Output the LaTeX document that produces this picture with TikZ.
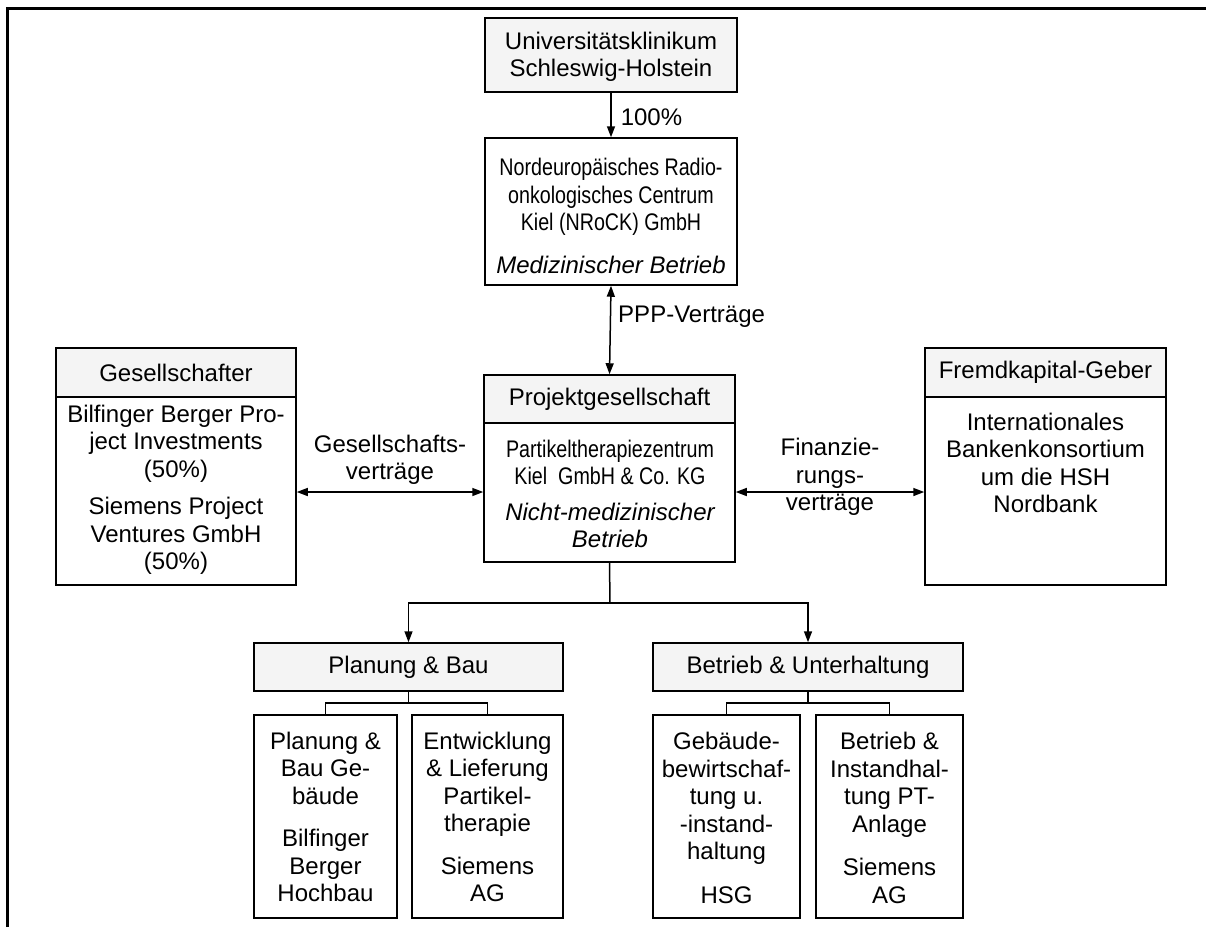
\documentclass[tikz,border=0pt]{standalone}
\usepackage{fontspec}
\setmainfont{Liberation Sans}
\newfontfamily\narrowfont[FakeStretch=0.82]{Liberation Sans}
\usetikzlibrary{arrows.meta}
\definecolor{hdr}{HTML}{F4F4F4}
\tikzset{
  base/.style={font=\fontsize{24}{27.5}\selectfont, inner sep=0pt, align=center},
  box/.style={draw, line width=1.5pt, fill=white, inner sep=0pt},
  hbox/.style={draw, line width=1.5pt, fill=hdr, inner sep=0pt, font=\fontsize{24}{27.5}\selectfont},
  txt/.style={base},
  conn/.style={line width=1.5pt},
  tip/.style={-{Triangle[length=11pt,width=8pt]}},
  dtip/.style={{Triangle[length=11pt,width=8pt]}-{Triangle[length=11pt,width=8pt]}},
}
\begin{document}
\begin{tikzpicture}[x=1pt,y=-1pt]
\useasboundingbox (0,0) rectangle (1206,927);
\draw[line width=3pt] (7,927) -- (7,8) -- (1206,8);

% top boxes
\node[hbox, minimum width=252pt, minimum height=74pt] (uksh) at (611,55) {};
\node[txt] at (611,57) {Universitätsklinikum\\Schleswig-Holstein};

\node[box, minimum width=252pt, minimum height=147pt] (nrock) at (611,211.5) {};
\node[txt] at (611,216) {{\narrowfont Nordeuropäisches Radio-}\\{\narrowfont onkologisches Centrum}\\{\narrowfont Kiel (NRoCK) GmbH}\\[15pt]{\itshape Medizinischer Betrieb}};

% Projektgesellschaft
\node[hbox, minimum width=251pt, minimum height=48pt] (projH) at (609.5,399) {Projektgesellschaft};
\node[box, minimum width=251pt, minimum height=139pt] (projB) at (609.5,492.5) {};
\node[txt] at (610,494) {{\narrowfont Partikeltherapiezentrum}\\{\narrowfont Kiel\ \ GmbH \& Co. KG}\\[8pt]{\itshape Nicht-medizinischer}\\{\itshape Betrieb}};

% Gesellschafter
\node[hbox, minimum width=240pt, minimum height=49pt] (gesH) at (176,372.5) {Gesellschafter};
\node[box, minimum width=240pt, minimum height=188pt] (gesB) at (176,491) {};
\node[txt] at (176,490) {Bilfinger Berger Pro-\\ject Investments\\(50\%)\\[10pt]Siemens Project\\Ventures GmbH\\(50\%)};

% Fremdkapital-Geber
\node[hbox, minimum width=241pt, minimum height=49pt] (frH) at (1045.5,372.5) {Fremdkapital-Geber};
\node[box, minimum width=241pt, minimum height=188pt] (frB) at (1045.5,491) {};
\node[txt] at (1045.5,463) {Internationales\\Bankenkonsortium\\um die HSH\\Nordbank};

% connectors top
\draw[conn, tip] (uksh.south) -- (nrock.north) node[txt, pos=0.55, anchor=west, xshift=9pt] {100\%};
\draw[conn, dtip] (nrock.south) -- (projH.north) node[txt, pos=0.35, anchor=west, xshift=7pt] {PPP-Verträge};
\draw[conn, dtip] (gesB.east |- 0,492) coordinate (gE) -- (projB.west |- 0,492);
\node[txt] at (390,460) {Gesellschafts-\\verträge};
\draw[conn, dtip] (projB.east |- 0,492) -- (frB.west |- 0,492);
\node[txt] at (830,477) {Finanzie-\\rungs-\\verträge};

% lower level
\node[hbox, minimum width=309pt, minimum height=48pt] (pbH) at (408.5,667) {Planung \& Bau};
\node[hbox, minimum width=310pt, minimum height=48pt] (buH) at (808,667) {Betrieb \& Unterhaltung};

\coordinate (split) at (610,603);
\draw[conn] (projB.south) -- (split);
\draw[conn, tip] (split) -| (pbH.north);
\draw[conn, tip] (split) -| (buH.north);

\node[box, minimum width=143pt, minimum height=203pt] (c1) at (325.5,816.5) {};
\node[box, minimum width=151pt, minimum height=203pt] (c2) at (487.5,816.5) {};
\node[box, minimum width=147pt, minimum height=203pt] (c3) at (726.5,816.5) {};
\node[box, minimum width=147pt, minimum height=203pt] (c4) at (889.5,816.5) {};

\node[txt] at (325.5,817) {Planung \&\\Bau Ge-\\bäude\\[15pt]Bilfinger\\Berger\\Hochbau};
\node[txt] at (487.5,817) {Entwicklung\\\& Lieferung\\Partikel-\\therapie\\[15pt]Siemens\\AG};
\node[txt] at (726.5,818) {Gebäude-\\bewirtschaf-\\tung u.\\-instand-\\haltung\\[16pt]HSG};
\node[txt] at (889.5,818) {Betrieb \&\\Instandhal-\\tung PT-\\Anlage\\[16pt]Siemens\\AG};

\coordinate (s1) at (408.5,703);
\coordinate (s2) at (808,703);
\draw[conn] (pbH.south) -- (s1);
\draw[conn] (s1) -| (c1.north);
\draw[conn] (s1) -| (c2.north);
\draw[conn] (buH.south) -- (s2);
\draw[conn] (s2) -| (c3.north);
\draw[conn] (s2) -| (c4.north);
\end{tikzpicture}
\end{document}
